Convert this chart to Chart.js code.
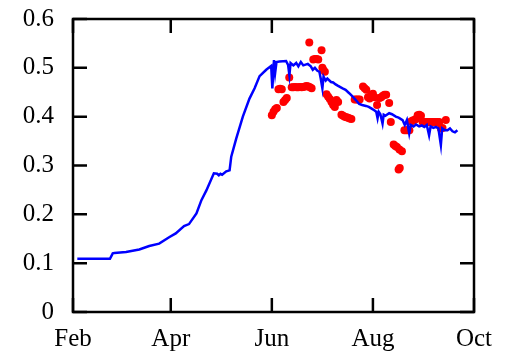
<!DOCTYPE html>
<html>
<head>
<meta charset="utf-8">
<script src="https://cdn.jsdelivr.net/npm/chart.js@4"></script>
<style>
  html, body { margin: 0; padding: 0; background: #fff; }
  #wrap { width: 508px; height: 354px; }
</style>
</head>
<body>
<div id="wrap"><canvas id="myChart" width="508" height="354"></canvas></div>
<script>
// x values are days counted from Feb 1
const monthLabels = ['Feb', 'Apr', 'Jun', 'Aug', 'Oct'];
const monthDays = [0, 59, 120, 181, 242];
const yTickLabels = ['0', '0.1', '0.2', '0.3', '0.4', '0.5', '0.6'];
const yTickValues = [0, 0.1, 0.2, 0.3, 0.4, 0.5, 0.6];

// blue line (model)
const blueDays = [2.6, 22.3, 24, 25, 32, 40, 46, 52, 58, 62, 67, 70, 74.5, 77.5, 80.5, 85, 87, 88, 89, 90, 92.5, 94.5, 95.5, 98.5,
    102.5, 106.5, 109.6, 112.6, 116.6, 119.6, 120.3, 121.3, 122, 122.8, 124.6, 128.6, 129.8, 130.6, 131.3, 133, 134.7, 136,
    137.5, 139, 141.7, 143.5, 144.7, 146, 147.5, 148.7, 149.5, 150.5, 151.2, 152.5, 153.5, 155.7, 157, 158.5, 160, 162.7,
    164.5, 166.7, 168.5, 170.7, 172.7, 174.5, 176.8, 178.5, 180, 181.8, 183, 183.8, 184.5, 185.5, 186.8, 187.5, 188.5,
    190.8, 192.5, 194.8, 196.5, 198.9, 200.2, 201.5, 202.9, 203.8, 205.5, 207, 208.9, 210.5, 212, 213.5, 214.9, 215.8,
    217.5, 219, 220.5, 222, 222.8, 224.5, 226, 227.5, 229, 230.5, 232];
const blueValues = [0.109, 0.109, 0.120, 0.121, 0.123, 0.128, 0.135, 0.140, 0.153, 0.161, 0.176, 0.180, 0.202, 0.229, 0.249,
    0.284, 0.283, 0.280, 0.283, 0.281, 0.288, 0.290, 0.318, 0.355, 0.400, 0.437, 0.458, 0.483, 0.496, 0.504, 0.458, 0.516,
    0.490, 0.512, 0.513, 0.514, 0.506, 0.485, 0.510, 0.505, 0.510, 0.503, 0.512, 0.505, 0.508, 0.503, 0.496, 0.500, 0.494,
    0.492, 0.478, 0.458, 0.482, 0.474, 0.478, 0.471, 0.470, 0.466, 0.463, 0.458, 0.455, 0.448, 0.442, 0.434, 0.426, 0.424,
    0.422, 0.420, 0.417, 0.413, 0.410, 0.397, 0.410, 0.405, 0.386, 0.404, 0.402, 0.407, 0.405, 0.400, 0.398, 0.393, 0.383,
    0.393, 0.366, 0.383, 0.380, 0.384, 0.380, 0.382, 0.379, 0.383, 0.362, 0.380, 0.377, 0.379, 0.376, 0.342, 0.376, 0.372,
    0.372, 0.376, 0.370, 0.368, 0.372];

// red dots (observations)
const redDays = [120, 121, 122, 123, 124, 125, 126, 127, 128, 129, 130.5, 132, 133, 134, 135, 136, 137, 138, 139, 140, 141,
    142, 143, 144, 142.6, 145, 146, 147, 148, 150, 150.5, 151, 152, 153, 154, 155, 156, 157, 158, 159, 160, 162, 163, 164,
    165, 166, 167, 168, 170, 171, 172, 173, 175, 176, 177, 178, 179, 180, 181, 182, 183.5, 185, 186, 187, 188, 189, 190.8,
    191.8, 193.5, 194.5, 195.5, 197, 198.5, 196.5, 197.2, 200, 201, 202, 203, 204, 205, 206, 207, 208, 209, 210, 211, 212,
    213, 214, 215, 216, 217, 218, 219, 220, 221, 222, 223, 225];
const redValues = [0.403, 0.410, 0.415, 0.418, 0.456, 0.457, 0.456, 0.430, 0.434, 0.438, 0.480, 0.460, 0.460, 0.461, 0.460,
    0.460, 0.461, 0.460, 0.461, 0.462, 0.463, 0.462, 0.460, 0.458, 0.552, 0.517, 0.518, 0.518, 0.517, 0.536, 0.500, 0.496,
    0.492, 0.446, 0.441, 0.436, 0.430, 0.424, 0.420, 0.434, 0.430, 0.404, 0.402, 0.400, 0.399, 0.398, 0.396, 0.395, 0.435,
    0.435, 0.435, 0.435, 0.462, 0.458, 0.455, 0.440, 0.437, 0.445, 0.447, 0.440, 0.424, 0.438, 0.440, 0.443, 0.445, 0.445,
    0.428, 0.389, 0.343, 0.340, 0.338, 0.333, 0.329, 0.292, 0.295, 0.372, 0.372, 0.372, 0.372, 0.390, 0.392, 0.393, 0.395,
    0.403, 0.404, 0.402, 0.389, 0.389, 0.389, 0.389, 0.389, 0.389, 0.389, 0.389, 0.389, 0.389, 0.389, 0.376, 0.377, 0.393];

const toPoints = (xs, ys) => xs.map((x, i) => ({ x: x, y: ys[i] }));

// box round the plot, with inward tick marks on all four sides
const framePlugin = {
    id: 'frame',
    afterDatasetsDraw(chart) {
        const ctx = chart.ctx;
        const area = chart.chartArea;
        const xs = chart.scales.x;
        const ys = chart.scales.y;
        const len = 14;
        ctx.save();
        ctx.strokeStyle = '#000';
        ctx.lineWidth = 2.5;
        ctx.beginPath();
        monthDays.forEach(d => {
            const px = xs.getPixelForValue(d);
            ctx.moveTo(px, area.bottom);
            ctx.lineTo(px, area.bottom - len);
            ctx.moveTo(px, area.top);
            ctx.lineTo(px, area.top + len);
        });
        yTickValues.forEach(v => {
            const py = ys.getPixelForValue(v);
            ctx.moveTo(area.left, py);
            ctx.lineTo(area.left + len, py);
            ctx.moveTo(area.right, py);
            ctx.lineTo(area.right - len, py);
        });
        ctx.stroke();
        ctx.strokeRect(area.left, area.top, area.right - area.left, area.bottom - area.top);
        ctx.restore();
    }
};

const font = { family: '"Liberation Serif", "Times New Roman", serif', size: 25 };

new Chart(document.getElementById('myChart').getContext('2d'), {
    type: 'scatter',
    data: {
        datasets: [
            {
                type: 'line',
                data: toPoints(blueDays, blueValues),
                borderColor: '#0000ff',
                borderWidth: 2.5,
                pointRadius: 0,
                fill: false,
                tension: 0,
                order: 0
            },
            {
                data: toPoints(redDays, redValues),
                backgroundColor: '#ff0000',
                borderColor: '#ff0000',
                borderWidth: 0,
                pointRadius: 4,
                order: 1
            }
        ]
    },
    options: {
        responsive: false,
        animation: false,
        layout: { padding: { top: 19, right: 34, left: 0, bottom: 0 } },
        plugins: {
            legend: { display: false },
            tooltip: { enabled: false }
        },
        scales: {
            x: {
                type: 'linear',
                min: 0,
                max: 242,
                grid: { display: false, drawTicks: false },
                border: { display: false },
                afterBuildTicks: axis => { axis.ticks = monthDays.map(v => ({ value: v })); },
                afterFit: axis => {
                    axis.height = 42;
                    axis.paddingLeft = 0;
                    axis.paddingRight = 0;
                },
                ticks: {
                    color: '#000',
                    font: font,
                    padding: 12,
                    maxRotation: 0,
                    autoSkip: false,
                    callback: (value) => monthLabels[monthDays.indexOf(value)]
                }
            },
            y: {
                min: 0,
                max: 0.6,
                grid: { display: false, drawTicks: false },
                border: { display: false },
                afterBuildTicks: axis => { axis.ticks = yTickValues.map(v => ({ value: v })); },
                afterFit: axis => {
                    axis.width = 73;
                    axis.paddingTop = 0;
                    axis.paddingBottom = 0;
                },
                ticks: {
                    color: '#000',
                    font: font,
                    padding: 19,
                    callback: (value) => yTickLabels[yTickValues.indexOf(value)]
                }
            }
        }
    },
    plugins: [framePlugin]
});
</script>
</body>
</html>
